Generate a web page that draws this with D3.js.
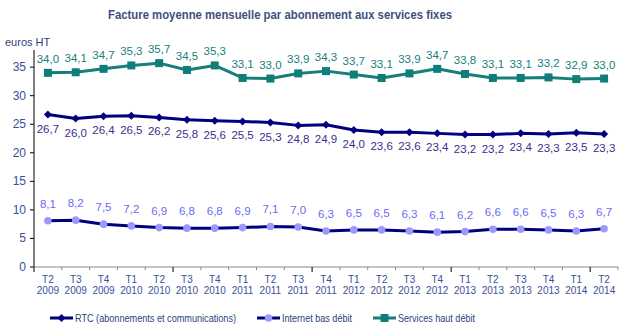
<!DOCTYPE html>
<html lang="fr">
<head>
<meta charset="utf-8">
<title>Facture moyenne mensuelle par abonnement aux services fixes</title>
<script src="https://cdn.jsdelivr.net/npm/d3@7"></script>
<style>
  body { margin: 0; background: #fff; }
  svg { font-family: "Liberation Sans", Arial, sans-serif; }
</style>
</head>
<body>
<script>
// quarters shown on the x axis
var quarters = ["T2","T3","T4","T1","T2","T3","T4","T1","T2","T3","T4","T1","T2","T3","T4","T1","T2","T3","T4","T1","T2"];
var years = ["2009","2009","2009","2010","2010","2010","2010","2011","2011","2011","2011","2012","2012","2012","2012","2013","2013","2013","2013","2014","2014"];

// euros HT per month
var rtc = [26.7,26.0,26.4,26.5,26.2,25.8,25.6,25.5,25.3,24.8,24.9,24.0,23.6,23.6,23.4,23.2,23.2,23.4,23.3,23.5,23.3];
var basDebit = [8.1,8.2,7.5,7.2,6.9,6.8,6.8,6.9,7.1,7.0,6.3,6.5,6.5,6.3,6.1,6.2,6.6,6.6,6.5,6.3,6.7];
var hautDebit = [34.0,34.1,34.7,35.3,35.7,34.5,35.3,33.1,33.0,33.9,34.3,33.7,33.1,33.9,34.7,33.8,33.1,33.1,33.2,32.9,33.0];

var yTicks = [0,5,10,15,20,25,30,35];

var w = 628, h = 334;
var plotLeft = 34, plotRight = 618, plotTop = 50, plotBottom = 267;

var svg = d3.select("body").append("svg")
    .attr("width", w)
    .attr("height", h);

var idx = d3.range(quarters.length);

var x = d3.scaleBand()
    .domain(idx)
    .range([plotLeft, plotRight]);

var y = d3.scaleLinear()
    .domain([0, 38])
    .range([plotBottom, plotTop]);

var cx = function(i){ return x(i) + x.bandwidth()/2; };
var fmt = function(v){ return v.toFixed(1).replace(".", ","); };

// title
svg.append("text")
    .attr("x", 280)
    .attr("y", 19)
    .attr("text-anchor", "middle")
    .attr("font-size", "13px")
    .attr("font-weight", "bold")
    .attr("textLength", 344)
    .attr("lengthAdjust", "spacingAndGlyphs")
    .attr("fill", "#3f4f80")
    .text("Facture moyenne mensuelle par abonnement aux services fixes");

svg.append("text")
    .attr("x", 5)
    .attr("y", 46)
    .attr("font-size", "11px")
    .attr("fill", "#2e3f7c")
    .text("euros HT");

// y axis
svg.append("line")
    .attr("x1", plotLeft).attr("x2", plotLeft)
    .attr("y1", plotTop).attr("y2", plotBottom)
    .attr("stroke", "#000").attr("stroke-width", 1);

svg.selectAll("g.ytick")
    .data(yTicks)
    .enter()
    .append("g")
    .attr("class", "ytick")
    .each(function(d){
        var g = d3.select(this);
        g.append("line")
            .attr("x1", plotLeft - 4).attr("x2", plotLeft)
            .attr("y1", y(d)).attr("y2", y(d))
            .attr("stroke", "#000");
        g.append("text")
            .attr("x", plotLeft - 8)
            .attr("y", y(d) + 4)
            .attr("text-anchor", "end")
            .attr("font-size", "12px")
            .attr("fill", "#3b4f9a")
            .text(d);
    });

// x axis
svg.append("line")
    .attr("x1", plotLeft).attr("x2", plotRight)
    .attr("y1", plotBottom).attr("y2", plotBottom)
    .attr("stroke", "#888").attr("stroke-width", 1);

var tickPos = d3.range(quarters.length + 1).map(function(i){ return plotLeft + i*x.bandwidth(); });
svg.selectAll("line.xtick")
    .data(tickPos)
    .enter()
    .append("line")
    .attr("class", "xtick")
    .attr("x1", function(d){ return d; })
    .attr("x2", function(d){ return d; })
    .attr("y1", plotBottom)
    .attr("y2", function(d, i){ return plotBottom + (i % 5 === 0 ? 5 : 3); })
    .attr("stroke", function(d, i){ return i % 5 === 0 ? "#000" : "#888"; });

var xl = svg.selectAll("text.xlab")
    .data(idx)
    .enter()
    .append("text")
    .attr("class", "xlab")
    .attr("text-anchor", "middle")
    .attr("font-size", "10px")
    .attr("fill", "#3b4f9a");
xl.append("tspan")
    .attr("x", cx).attr("y", 283)
    .text(function(i){ return quarters[i]; });
xl.append("tspan")
    .attr("x", cx).attr("y", 294)
    .text(function(i){ return years[i]; });

var line = d3.line()
    .x(function(d, i){ return cx(i); })
    .y(function(d){ return y(d); });

function drawSeries(values, stroke, marker, labelColor, dy){
    svg.append("path")
        .datum(values)
        .attr("fill", "none")
        .attr("stroke", stroke)
        .attr("stroke-width", 3)
        .attr("stroke-linejoin", "round")
        .attr("d", line);

    values.forEach(function(v, i){
        marker(svg, cx(i), y(v));
    });

    svg.selectAll(null)
        .data(values)
        .enter()
        .append("text")
        .attr("x", function(d, i){ return cx(i); })
        .attr("y", function(d){ return y(d) + dy; })
        .attr("text-anchor", "middle")
        .attr("font-size", "11.5px")
        .attr("fill", labelColor)
        .text(fmt);
}

var square = function(g, px, py){
    g.append("rect")
        .attr("x", px - 4).attr("y", py - 4)
        .attr("width", 8).attr("height", 8)
        .attr("fill", "#0f7d78");
};
var diamond = function(g, px, py){
    g.append("path")
        .attr("d", "M" + px + "," + (py-4) + "L" + (px+4) + "," + py + "L" + px + "," + (py+4) + "L" + (px-4) + "," + py + "Z")
        .attr("fill", "#000080");
};
var circle = function(g, px, py){
    g.append("circle")
        .attr("cx", px).attr("cy", py)
        .attr("r", 3.8)
        .attr("fill", "#9999ff");
};

drawSeries(hautDebit, "#177e7a", square, "#17807c", -10);
drawSeries(rtc, "#000080", diamond, "#3a2f8f", 18);
drawSeries(basDebit, "#000080", circle, "#6a6cf4", -13);

// legend
var legend = [
    {name: "RTC (abonnements et communications)", x: 50, len: 161, stroke: "#000080", marker: diamond},
    {name: "Internet bas débit", x: 257, len: 70, stroke: "#000080", marker: circle},
    {name: "Services haut débit", x: 373, len: 77, stroke: "#177e7a", marker: square}
];
legend.forEach(function(l){
    var ly = 318;
    svg.append("line")
        .attr("x1", l.x).attr("x2", l.x + 23)
        .attr("y1", ly).attr("y2", ly)
        .attr("stroke", l.stroke).attr("stroke-width", 3);
    l.marker(svg, l.x + 11.5, ly);
    svg.append("text")
        .attr("x", l.x + 25)
        .attr("y", ly + 4)
        .attr("font-size", "11px")
        .attr("textLength", l.len)
        .attr("lengthAdjust", "spacingAndGlyphs")
        .attr("fill", "#2e3f7c")
        .text(l.name);
});
</script>
</body>
</html>
